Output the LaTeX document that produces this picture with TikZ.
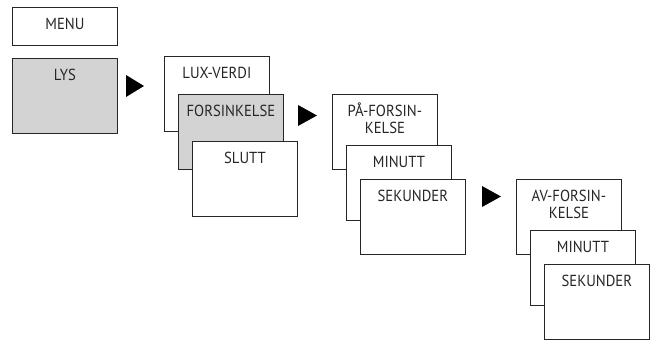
\documentclass[tikz,border=0pt]{standalone}
\usepackage{fontspec}
\setmainfont[FakeStretch=0.92]{PT Sans}
\usetikzlibrary{positioning}
\definecolor{boxgray}{RGB}{211,211,211}
\begin{document}
\begin{tikzpicture}[x=1pt,y=-1pt,
  box/.style={draw=black!85, line width=0.8pt, fill=white, minimum width=105pt, minimum height=75pt, inner sep=0pt, anchor=north west},
  graybox/.style={box, fill=boxgray},
  menubox/.style={box, minimum height=38pt},
  lbl/.style={anchor=base, inner sep=0pt, font=\fontsize{16}{17}\selectfont, align=center, text=black!85},
  tri/.style={fill=black}]
\useasboundingbox (0,0) rectangle (653,340);
% MENU
\node[menubox] (menu) at (12,7) {};
\node[lbl] (menut) at ([yshift=-22pt]menu.north) {MENU};
% LYS
\node[graybox] (lys) at (12,58) {};
\node[lbl] (lyst) at ([yshift=-22pt]lys.north) {LYS};
% second column
\node[box] (lux) at (164,56) {};
\node[lbl] (luxt) at ([yshift=-22pt]lux.north) {LUX-VERDI};
\node[graybox] (fors) at (178,94) {};
\node[lbl] (forst) at ([yshift=-22pt]fors.north) {FORSINKELSE};
\node[box] (slutt) at (192,141) {};
\node[lbl] (sluttt) at ([yshift=-22pt]slutt.north) {SLUTT};
% third column
\node[box] (paf) at (332,94) {};
\node[lbl] (paft) at ([yshift=-39pt]paf.north) {PÅ-FORSIN-\\KELSE};
\node[box] (min1) at (346,145) {};
\node[lbl] (min1t) at ([yshift=-22pt]min1.north) {MINUTT};
\node[box] (sek1) at (360,179) {};
\node[lbl] (sek1t) at ([yshift=-22pt]sek1.north) {SEKUNDER};
% fourth column
\node[box] (avf) at (516,179) {};
\node[lbl] (avft) at ([yshift=-39pt]avf.north) {AV-FORSIN-\\KELSE};
\node[box] (min2) at (530,230) {};
\node[lbl] (min2t) at ([yshift=-22pt]min2.north) {MINUTT};
\node[box] (sek2) at (544,264) {};
\node[lbl] (sek2t) at ([yshift=-22pt]sek2.north) {SEKUNDER};
% arrows
\fill[tri] (126,75) -- (144,86) -- (126,97) -- cycle;
\fill[tri] (298,105) -- (317,115.5) -- (298,126) -- cycle;
\fill[tri] (482,186) -- (501,196.5) -- (482,207) -- cycle;
\end{tikzpicture}
\end{document}
